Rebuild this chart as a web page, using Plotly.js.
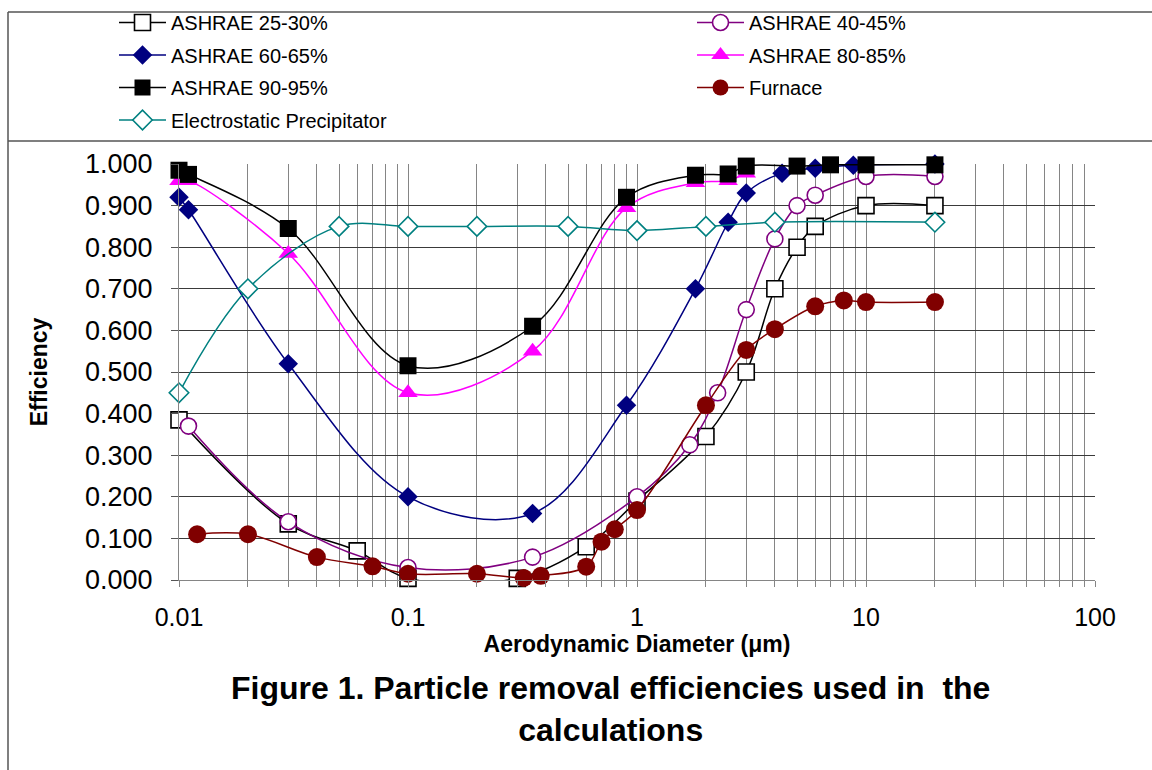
<!DOCTYPE html>
<html>
<head>
<meta charset="utf-8">
<script src="https://cdn.plot.ly/plotly-3.0.1.min.js"></script>
<style>
html,body{margin:0;padding:0;background:#fff;}
#chart{width:1152px;height:770px;}
</style>
</head>
<body>
<div id="chart"></div>
<script>
// ---- data ----
const seriesNames = ["ASHRAE 25-30%", "ASHRAE 40-45%", "ASHRAE 60-65%", "ASHRAE 80-85%", "ASHRAE 90-95%", "Furnace", "Electrostatic Precipitator"];

const x25 = [0.01, 0.03, 0.06, 0.1, 0.3, 0.6, 1, 2, 3, 4, 5, 6, 10, 20];
const y25 = [0.385, 0.135, 0.07, 0.004, 0.004, 0.08, 0.19, 0.345, 0.50, 0.70, 0.80, 0.85, 0.90, 0.90];

const x40 = [0.011, 0.03, 0.1, 0.35, 1, 1.7, 2.25, 3, 4, 5, 6, 10, 20];
const y40 = [0.37, 0.14, 0.03, 0.055, 0.20, 0.325, 0.45, 0.65, 0.82, 0.90, 0.925, 0.97, 0.97];

const x60 = [0.01, 0.011, 0.03, 0.1, 0.35, 0.9, 1.8, 2.5, 3, 4.3, 6, 8.8, 20];
const y60 = [0.92, 0.89, 0.52, 0.20, 0.16, 0.42, 0.70, 0.86, 0.93, 0.978, 0.99, 0.997, 1.0];

const x80 = [0.01, 0.011, 0.03, 0.1, 0.35, 0.9, 1.8, 2.5, 3];
const y80 = [0.96, 0.96, 0.785, 0.45, 0.55, 0.895, 0.955, 0.96, 0.978];

const x95 = [0.01, 0.011, 0.03, 0.1, 0.35, 0.9, 1.8, 2.5, 3, 5, 7, 10, 20];
const y95 = [0.985, 0.975, 0.845, 0.515, 0.61, 0.92, 0.973, 0.976, 0.995, 0.995, 0.998, 0.998, 0.998];

const xFurnace = [0.012, 0.02, 0.04, 0.07, 0.1, 0.2, 0.32, 0.38, 0.6, 0.7, 0.8, 1, 2, 3, 4, 6, 8, 10, 20];
const yFurnace = [0.11, 0.11, 0.055, 0.033, 0.015, 0.015, 0.005, 0.01, 0.032, 0.092, 0.122, 0.168, 0.42, 0.553, 0.603, 0.658, 0.672, 0.668, 0.668];

const xESP = [0.01, 0.02, 0.05, 0.1, 0.2, 0.5, 1, 2, 4, 20];
const yESP = [0.45, 0.70, 0.85, 0.85, 0.85, 0.85, 0.84, 0.85, 0.86, 0.86];

// x tick positions (grid at every 1..9 of each decade), labels at decades only
const xTickVals = [];
const xTickText = [];
[0.01, 0.1, 1, 10].forEach(function (d) {
  for (let k = 1; k <= 9; k++) {
    xTickVals.push(+(d * k).toPrecision(3));
    xTickText.push(k === 1 ? String(d) : "");
  }
});
xTickVals.push(100); xTickText.push("100");

// ---- styles ----
const FONT = "Liberation Sans, Arial, sans-serif";

function tr(name, xs, ys, color, symbol, size, open, legend, group) {
  return {
    type: "scatter", mode: "lines+markers", name: name, x: xs, y: ys,
    line: {color: color, width: 1.5, shape: "spline", smoothing: 1},
    marker: {
      symbol: symbol, size: size,
      color: open ? "#ffffff" : color,
      line: {color: color, width: open ? 1.6 : 0}
    },
    cliponaxis: false, legend: legend, legendgroup: group
  };
}

const data = [
  tr(seriesNames[0], x25, y25, "#000000", "square", 16, true, "legend", "g1"),
  tr(seriesNames[1], x40, y40, "#800080", "circle", 16, true, "legend2", "g2"),
  tr(seriesNames[2], x60, y60, "#000080", "diamond", 15, false, "legend", "g3"),
  tr(seriesNames[3], x80, y80, "#FF00FF", "triangle-up", 17, false, "legend2", "g4"),
  tr(seriesNames[4], x95, y95, "#000000", "square", 17, false, "legend", "g5"),
  tr(seriesNames[5], xFurnace, yFurnace, "#800000", "circle", 18, false, "legend2", "g6"),
  tr(seriesNames[6], xESP, yESP, "#008080", "diamond", 15, true, "legend", "g7")
];

// pixel helpers for paper coordinates (plot area 179..1095 x, 164..580 y)
const W = 1152, H = 770;
const L = 179, R = 1095, T = 164, B = 580;
const px = function (p) { return (p - L) / (R - L); };
const py = function (p) { return (B - p) / (B - T); };

const legendCommon = {
  font: {family: FONT, size: 20, color: "#000"},
  bgcolor: "rgba(0,0,0,0)", borderwidth: 0,
  xanchor: "left", yanchor: "top", tracegroupgap: 3.5, itemwidth: 47,
  itemclick: false, itemdoubleclick: false
};

const layout = {
  width: W, height: H,
  margin: {l: L, r: W - R, t: T, b: H - B, pad: 0, autoexpand: false},
  paper_bgcolor: "#ffffff", plot_bgcolor: "#ffffff",
  font: {family: FONT, color: "#000"},
  showlegend: true,
  legend: Object.assign({}, legendCommon, {x: px(114), y: py(3)}),
  legend2: Object.assign({}, legendCommon, {x: px(692), y: py(3)}),
  xaxis: {
    type: "log", range: [-2, 2],
    tickmode: "array", tickvals: xTickVals, ticktext: xTickText,
    showgrid: true, gridcolor: "#858585", gridwidth: 1,
    ticks: "outside", ticklen: 6, tickcolor: "#858585", tickwidth: 1,
    showline: true, linecolor: "#858585", linewidth: 1,
    zeroline: false, ticklabelstandoff: 9,
    tickfont: {family: FONT, size: 25, color: "#000"},
    title: {text: "Aerodynamic Diameter (μm)", font: {family: FONT, size: 23, color: "#000", weight: "bold"}, standoff: 5},
    automargin: false
  },
  yaxis: {
    range: [0, 1], dtick: 0.1, tick0: 0, tickformat: ".3f",
    showgrid: true, gridcolor: "#3a3a3a", gridwidth: 1,
    ticks: "outside", ticklen: 7, tickcolor: "#555", tickwidth: 1,
    showline: true, linecolor: "#858585", linewidth: 1,
    zeroline: false, ticklabelstandoff: 13,
    tickfont: {family: FONT, size: 27, color: "#000"},
    title: {text: "Efficiency", font: {family: FONT, size: 23, color: "#000", weight: "bold"}, standoff: 30},
    automargin: false
  },
  shapes: [
    {type: "line", xref: "paper", yref: "paper", x0: px(8), x1: px(1152), y0: py(12), y1: py(12), line: {color: "#555", width: 1.5}},
    {type: "line", xref: "paper", yref: "paper", x0: px(8), x1: px(1152), y0: py(141), y1: py(141), line: {color: "#555", width: 1.5}},
    {type: "line", xref: "paper", yref: "paper", x0: px(8), x1: px(8), y0: py(12), y1: py(770), line: {color: "#555", width: 1.5}}
  ],
  annotations: [
    {xref: "paper", yref: "paper", x: px(610), y: py(709), xanchor: "center", yanchor: "middle",
     showarrow: false, align: "center",
     text: "Figure 1. Particle removal efficiencies used in  the<br>calculations",
     font: {family: FONT, size: 32, color: "#000", weight: "bold"}}
  ]
};

Plotly.newPlot("chart", data, layout, {staticPlot: true, displayModeBar: false});
</script>
</body>
</html>
